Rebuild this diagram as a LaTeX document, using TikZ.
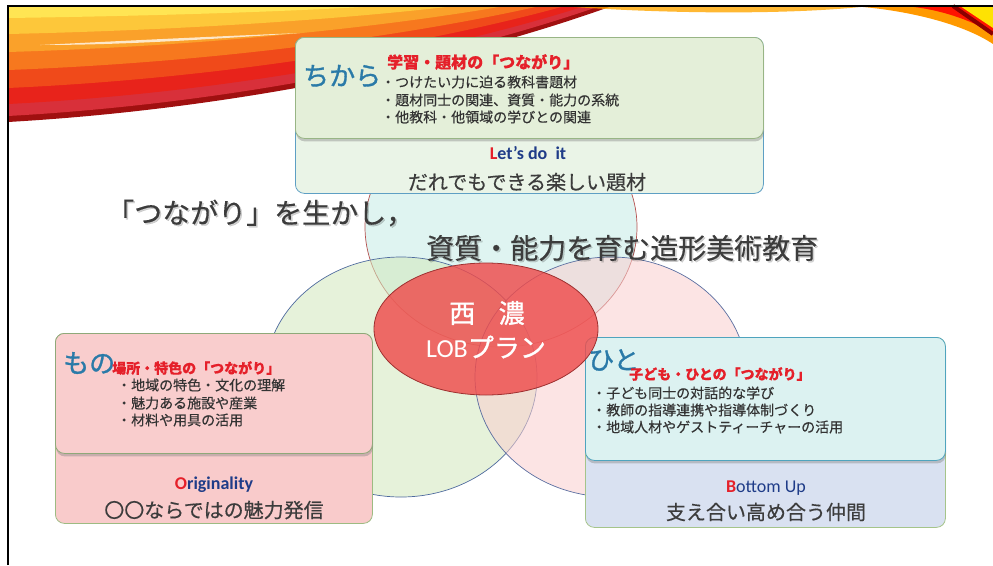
\documentclass[tikz,border=0pt]{standalone}
\usepackage{fontspec}
\setmainfont{Noto Sans CJK JP}[FakeBold=0.35]
\newfontfamily\keyfont{Noto Sans CJK JP}[FakeBold=1.2]
\newfontfamily\latinfont{Carlito}
\usetikzlibrary{shapes.geometric,shadows}

\definecolor{keyblue}{HTML}{2A7AA8}
\definecolor{linkred}{HTML}{E5202A}
\definecolor{bodytxt}{HTML}{333333}
\definecolor{darktxt}{HTML}{3C3C3C}
\definecolor{navy}{HTML}{1F3C88}

\tikzset{
  panel/.style={rectangle, rounded corners=9pt, line width=0.8pt, anchor=north west, inner sep=0pt},
  front/.style={panel, drop shadow={shadow xshift=0.6pt, shadow yshift=-3pt, opacity=0.4}},
  ring/.style={ellipse, inner sep=0pt, minimum width=272pt, minimum height=240pt, line width=0.7pt, fill opacity=0.55},
  keyword/.style={anchor=west, inner sep=0pt, text=keyblue, font=\keyfont\fontsize{26}{28}\selectfont},
  tsuna/.style={anchor=west, inner sep=0pt, text=linkred, font=\fontsize{14}{16}\selectfont\bfseries},
  item/.style={anchor=west, inner sep=0pt, text=bodytxt, font=\fontsize{14}{16}\selectfont},
  motto/.style={inner sep=0pt, text=navy, font=\latinfont\fontsize{18}{20}\selectfont\bfseries},
  slogan/.style={inner sep=0pt, text=darktxt, font=\fontsize{20}{22}\selectfont},
  headline/.style={anchor=west, inner sep=0pt, text=darktxt, font=\fontsize{28}{30}\selectfont},
  headshadow/.style={headline, text=black, text opacity=0.18},
  centre/.style={inner sep=0pt, text=white, font=\keyfont\fontsize{26}{28}\selectfont},
}

\begin{document}
\begin{tikzpicture}[x=1pt,y=-1pt]
\useasboundingbox (0,0) rectangle (993,565);

% ---- ribbon across the top ----
\foreach \yo/\xe/\col in {122/612/A01010, 116/600/D8303A, 104/585/E8231B, 88/565/F04A1A,
                          70/540/F7781E, 52/505/FAA12A, 34/455/FDC73A, 18/380/FFE553} {
  \definecolor{band}{HTML}{\col}
  \fill[band] (8,6) -- (8,\yo) .. controls ({0.36*\xe},{0.9*\yo}) and ({0.72*\xe},{6+(\yo-6)*0.53}) .. (\xe,6) -- cycle;
}
\fill[white, opacity=0.75] (40,45) .. controls (120,41) and (200,37) .. (300,33)
                                   .. controls (200,40) and (120,45) .. (40,45) -- cycle;
\fill[orange!70!yellow, opacity=0.8] (560,6) .. controls (680,15) and (800,14) .. (870,6) -- cycle;
\fill[orange!80!yellow] (850,6) .. controls (900,9) and (960,22) .. (993,44) -- (993,6) -- cycle;
\fill[red!85!orange] (905,6) .. controls (940,9) and (970,20) .. (993,33) -- (993,6) -- cycle;
\fill[yellow!85!orange] (960,6) -- (993,28) -- (993,6) -- cycle;
\draw[line width=4pt, red!55!black] (953,6) -- (993,34);

% ---- frame ----
\draw[line width=2pt] (8.3,565) -- (8.3,6) -- (993,6);

% ---- three overlapping rings ----
\node[ring, fill={rgb,255:red,197;green,235;blue,229}, draw={rgb,255:red,181;green,81;blue,79}] (ringtop) at (501,227) {};
\node[ring, fill={rgb,255:red,210;green,231;blue,188}, draw={rgb,255:red,78;green,106;blue,158}] (ringleft) at (401,377) {};
\node[ring, fill={rgb,255:red,249;green,206;blue,206}, draw={rgb,255:red,90;green,110;blue,160}] (ringright) at (611,377) {};

% ---- top panel: ちから ----
\node[panel, minimum width=468pt, minimum height=156pt, fill={rgb,255:red,234;green,244;blue,231}, draw={rgb,255:red,94;green,159;blue,196}] (topback) at (295,37) {};
\node[front, minimum width=468pt, minimum height=101pt, fill={rgb,255:red,228;green,239;blue,217}, draw={rgb,255:red,152;green,181;blue,133}] (topfront) at (295,37) {};
\node[keyword] (kchikara) at (303,76) {ちから};
\node[tsuna, font=\fontsize{16}{18}\selectfont\bfseries] (tchikara) at (387,62) {学習・題材の「つながり」};
\node[item] (chikara1) at (381,82) {・つけたい力に迫る教科書題材};
\node[item] (chikara2) at (381,100) {・題材同士の関連、資質・能力の系統};
\node[item] (chikara3) at (381,117) {・他教科・他領域の学びとの関連};
\node[motto] (mchikara) at (528,153) {{\color{linkred}L}et’s\ do\ \ it};
\node[slogan] (schikara) at (527,182) {だれでもできる楽しい題材};

% ---- left panel: もの ----
\node[panel, minimum width=317pt, minimum height=190pt, fill={rgb,255:red,249;green,203;blue,203}, draw={rgb,255:red,157;green,187;blue,130}] (leftback) at (55,333) {};
\node[front, minimum width=317pt, minimum height=120pt, fill={rgb,255:red,249;green,205;blue,205}, draw={rgb,255:red,143;green,169;blue,121}] (leftfront) at (55,333) {};
\node[keyword] (kmono) at (63,363) {もの};
\node[tsuna] (tmono) at (112,368) {場所・特色の「つながり」};
\node[item] (mono1) at (117,385) {・地域の特色・文化の理解};
\node[item] (mono2) at (117,403) {・魅力ある施設や産業};
\node[item] (mono3) at (117,420) {・材料や用具の活用};
\node[motto] (mmono) at (214,485) {{\color{linkred}O}riginality};
\node[slogan] (smono) at (214,510) {〇〇ならではの魅力発信};

% ---- right panel: ひと ----
\node[panel, minimum width=360pt, minimum height=190pt, fill={rgb,255:red,217;green,225;blue,241}, draw={rgb,255:red,165;green,196;blue,138}] (rightback) at (585,337) {};
\node[front, minimum width=360pt, minimum height=123pt, fill={rgb,255:red,220;green,242;blue,241}, draw={rgb,255:red,79;green,164;blue,190}] (rightfront) at (585,337) {};

% ---- centre: 西濃 LOBプラン ----
\node[ellipse, inner sep=0pt, minimum width=224pt, minimum height=132pt, fill={rgb,255:red,238;green,76;blue,76}, fill opacity=0.82, draw={rgb,255:red,158;green,48;blue,48}, line width=0.8pt] (core) at (486,329) {};
\node[centre] (coretitle) at (487,313) {西\hspace{0.9em}濃};
\node[centre] (coreplan) at (486,347) {{\latinfont LOB}プラン};

\node[keyword] (khito) at (588,360) {ひと};
\node[tsuna] (thito) at (629,374) {子ども・ひとの「つながり」};
\node[item] (hito1) at (592,393) {・子ども同士の対話的な学び};
\node[item] (hito2) at (592,410) {・教師の指導連携や指導体制づくり};
\node[item] (hito3) at (592,427) {・地域人材やゲストティーチャーの活用};
\node[motto, font=\latinfont\fontsize{18}{20}\selectfont] (mhito) at (766,488) {{\color{linkred}\bfseries B}ottom Up};
\node[slogan] (shito) at (766,512) {支え合い高め合う仲間};

% ---- headline ----
\node[headshadow] (head1s) at (107.5,214.5) {「つながり」を生かし，};
\node[headshadow] (head2s) at (427.5,249.5) {資質・能力を育む造形美術教育};
\node[headline] (head1) at (106,213) {「つながり」を生かし，};
\node[headline] (head2) at (426,248) {資質・能力を育む造形美術教育};
\end{tikzpicture}
\end{document}
